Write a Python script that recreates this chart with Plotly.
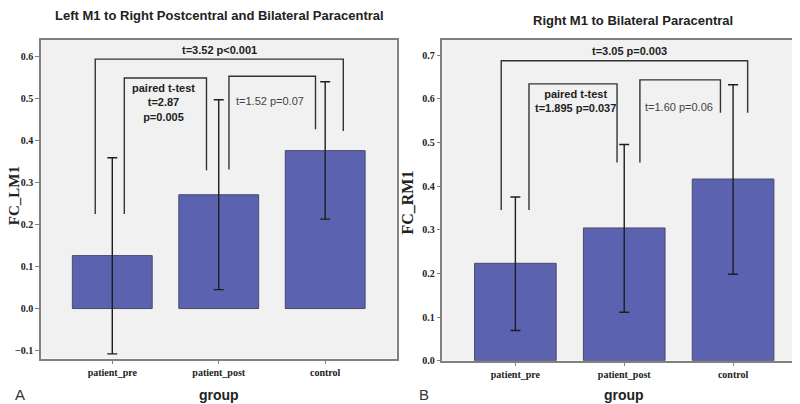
import plotly.graph_objects as go

# ---------------- data ----------------
groups = ["patient_pre", "patient_post", "control"]

# Panel A: FC_LM1
a_mean = [0.126, 0.271, 0.376]
a_err_hi = [0.359, 0.497, 0.540]   # upper end of error bar
a_err_lo = [-0.108, 0.045, 0.213]  # lower end of error bar

# Panel B: FC_RM1
b_mean = [0.223, 0.304, 0.416]
b_err_hi = [0.375, 0.495, 0.632]
b_err_lo = [0.069, 0.111, 0.198]

# significance brackets: (x_left, x_right, y_top, y_left_end, y_right_end)
a_brackets = [(-0.16, 2.17, 0.594, 0.225, 0.423),
              (0.113, 0.885, 0.549, 0.225, 0.329),
              (1.096, 1.909, 0.553, 0.331, 0.427)]
b_brackets = [(-0.13, 2.134, 0.687, 0.345, 0.568),
              (0.125, 0.934, 0.634, 0.345, 0.454),
              (1.144, 1.884, 0.643, 0.454, 0.568)]

a_ticks = [-0.1, 0.0, 0.1, 0.2, 0.3, 0.4, 0.5, 0.6]
b_ticks = [0.0, 0.1, 0.2, 0.3, 0.4, 0.5, 0.6, 0.7]

BAR = "#5b62b0"
FRAME = "#808080"
BG = "#f1f1f1"

fig = go.Figure()
xs = list(range(len(groups)))


def add_panel(mean, hi, lo, brackets, xa, ya):
    fig.add_trace(go.Bar(
        x=xs, y=mean, width=0.75, xaxis=xa, yaxis=ya,
        marker=dict(color=BAR, line=dict(color="#4a4a6a", width=1)),
        error_y=dict(type="data", symmetric=False,
                     array=[h - m for h, m in zip(hi, mean)],
                     arrayminus=[m - l for l, m in zip(lo, mean)],
                     color="#1e1e1e", thickness=1.4, width=5),
        showlegend=False, hoverinfo="skip"))
    bx, by = [], []
    for x0, x1, yt, y0, y1 in brackets:
        bx += [x0, x0, x1, x1, None]
        by += [y0, yt, yt, y1, None]
    fig.add_trace(go.Scatter(x=bx, y=by, mode="lines", xaxis=xa, yaxis=ya,
                             line=dict(color="#333333", width=1.4),
                             showlegend=False, hoverinfo="skip"))


add_panel(a_mean, a_err_hi, a_err_lo, a_brackets, "x", "y")
add_panel(b_mean, b_err_hi, b_err_lo, b_brackets, "x2", "y2")

serif_bold = dict(family="Liberation Serif", size=10, color="#222", weight="bold")
tick_font = dict(family="Liberation Serif", size=10, color="#222", weight="bold")

xcommon = dict(tickvals=xs, ticktext=groups, range=[-0.67, 2.67],
               showline=True, linecolor=FRAME, linewidth=1.5, mirror=True,
               ticks="outside", ticklen=4, tickcolor=FRAME, showgrid=False,
               zeroline=False, tickfont=serif_bold)
ycommon = dict(showline=True, linecolor=FRAME, linewidth=1.5, mirror=True,
               ticks="outside", ticklen=4, tickcolor=FRAME, showgrid=False,
               zeroline=False, tickfont=tick_font, tickformat=".1f")

fig.update_layout(
    width=800, height=404,
    margin=dict(l=0, r=0, t=0, b=0),
    paper_bgcolor="white", plot_bgcolor=BG,
    xaxis=dict(domain=[33 / 800, 389 / 800], anchor="y", **xcommon),
    yaxis=dict(domain=[1 - 356 / 404, 1 - 32 / 404], anchor="x",
               range=[-0.1195, 0.6406], tickvals=a_ticks, **ycommon),
    xaxis2=dict(domain=[435 / 800, 799 / 800], anchor="y2", **xcommon),
    yaxis2=dict(domain=[1 - 358 / 404, 1 - 32 / 404], anchor="x2",
                range=[0, 0.7355], tickvals=b_ticks, **ycommon),
)

ann = []
sb = dict(family="Arial, Liberation Sans", size=11, color="#222", weight="bold")
sn = dict(family="Arial, Liberation Sans", size=11, color="#444")


def t(text, x, y, xref, yref, font, **kw):
    ann.append(dict(text=text, x=x, y=y, xref=xref, yref=yref, showarrow=False,
                    font=font, xanchor="center", yanchor="middle", **kw))


# stats texts panel A
t("t=3.52 p&lt;0.001", 1.005, 0.615, "x", "y", sb)
t("paired t-test<br>t=2.87<br>p=0.005", 0.48, 0.49, "x", "y", sb)
t("t=1.52 p=0.07", 1.48, 0.495, "x", "y", sn)
# stats texts panel B
t("t=3.05 p=0.003", 1.05, 0.71, "x2", "y2", sb)
t("paired t-test<br>t=1.895 p=0.037", 0.548, 0.595, "x2", "y2", sb)
t("t=1.60 p=0.06", 1.507, 0.582, "x2", "y2", sn)

# titles & labels in paper coords
def p(text, px, py, font, **kw):
    ann.append(dict(text=text, x=px / 800, y=1 - py / 404, xref="paper", yref="paper",
                    showarrow=False, font=font, xanchor=kw.pop("xanchor", "center"),
                    yanchor="middle", **kw))


title_font = dict(family="Arial, Liberation Sans", size=13, color="#222", weight="bold")
p("Left M1 to Right Postcentral and Bilateral Paracentral", 212, 8, title_font)
p("Right M1 to Bilateral Paracentral", 626, 13, title_font)
ylab_font_a = dict(family="Liberation Serif", size=15, color="#222", weight="bold")
ylab_font_b = dict(family="Liberation Serif", size=16, color="#222", weight="bold")
p("FC_LM1", 6, 190, ylab_font_a, textangle=-90)
p("FC_RM1", 400, 198, ylab_font_b, textangle=-90)
grp_font = dict(family="Arial, Liberation Sans", size=14, color="#222", weight="bold")
p("group", 211, 393, grp_font)
p("group", 617, 393, grp_font)
lab_font = dict(family="Arial, Liberation Sans", size=15, color="#333")
p("A", 12, 392, lab_font)
p("B", 417, 392, lab_font)

fig.update_layout(annotations=ann)
fig.write_html("out.html")
